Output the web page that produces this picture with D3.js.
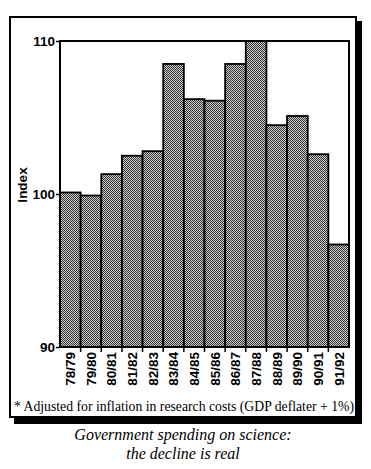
<!DOCTYPE html>
<html>
<head>
<meta charset="utf-8">
<script src="https://cdn.jsdelivr.net/npm/d3@7"></script>
<style>
  body { margin: 0; background: #fff; }
</style>
</head>
<body>
<div id="chart"></div>
<script>
// chart data
const years = ["78/79", "79/80", "80/81", "81/82", "82/83", "83/84", "84/85",
               "85/86", "86/87", "87/88", "88/89", "89/90", "90/91", "91/92"];
const index = [100.1, 99.9, 101.3, 102.5, 102.8, 108.5, 106.2,
               106.1, 108.5, 110.0, 104.5, 105.1, 102.6, 96.7];
const yTicks = [90, 100, 110];

const W = 371, H = 469;
const plot = { left: 60, top: 41, right: 349, bottom: 347 };

const svg = d3.select('#chart')
    .append('svg')
    .attr('width', W)
    .attr('height', H);

// halftone fill
const pat = svg.append('defs')
    .append('pattern')
    .attr('id', 'dots')
    .attr('width', 2)
    .attr('height', 2)
    .attr('patternUnits', 'userSpaceOnUse');
pat.append('rect').attr('width', 2).attr('height', 2).attr('fill', '#cfcfcf');
pat.append('rect').attr('width', 1).attr('height', 1).attr('fill', '#333');
pat.append('rect').attr('x', 1).attr('y', 1).attr('width', 1).attr('height', 1).attr('fill', '#333');

// shadow + outer box
svg.append('rect')
    .attr('x', 14).attr('y', 21)
    .attr('width', 348).attr('height', 403)
    .attr('fill', '#000');
svg.append('rect')
    .attr('x', 10).attr('y', 17)
    .attr('width', 346).attr('height', 400)
    .attr('fill', '#fff')
    .attr('stroke', '#000')
    .attr('stroke-width', 2);

const x = d3.scaleBand()
    .domain(years)
    .range([plot.left, plot.right])
    .padding(0);
const y = d3.scaleLinear()
    .domain([90, 110])
    .range([plot.bottom, plot.top]);

// bars
svg.append('g')
    .selectAll('rect')
    .data(years)
    .join('rect')
    .attr('x', d => x(d))
    .attr('y', (d, i) => y(index[i]))
    .attr('width', x.bandwidth())
    .attr('height', (d, i) => y(90) - y(index[i]))
    .attr('fill', 'url(#dots)')
    .attr('stroke', '#000')
    .attr('stroke-width', 1.8);

// plot frame
svg.append('rect')
    .attr('x', plot.left).attr('y', plot.top)
    .attr('width', plot.right - plot.left)
    .attr('height', plot.bottom - plot.top)
    .attr('fill', 'none')
    .attr('stroke', '#000')
    .attr('stroke-width', 2);

// y axis
const yAxis = svg.append('g')
    .attr('transform', `translate(${plot.left},0)`)
    .call(d3.axisLeft(y).tickValues(yTicks).tickSize(4).tickPadding(1));
yAxis.select('.domain').remove();
yAxis.selectAll('line').attr('stroke', '#000').attr('stroke-width', 1.5);
yAxis.selectAll('text')
    .attr('fill', '#000')
    .style('font-family', 'Liberation Sans, Arial, sans-serif')
    .style('font-weight', 'bold')
    .style('font-size', '13.5px');

svg.append('text')
    .attr('transform', 'translate(27,185) rotate(-90)')
    .attr('text-anchor', 'middle')
    .style('font-family', 'Liberation Sans, Arial, sans-serif')
    .style('font-weight', 'bold')
    .style('font-size', '13.5px')
    .text('Index');

// x axis: ticks on bar boundaries
const xAxis = svg.append('g')
    .attr('transform', `translate(0,${plot.bottom})`)
    .call(d3.axisBottom(x).tickSize(0).tickPadding(0));
xAxis.select('.domain').remove();
xAxis.selectAll('text')
    .attr('transform', 'rotate(-90)')
    .attr('x', -5)
    .attr('y', 0)
    .attr('dy', '0.36em')
    .attr('text-anchor', 'end')
    .attr('fill', '#000')
    .style('font-family', 'Liberation Sans, Arial, sans-serif')
    .style('font-weight', 'bold')
    .style('font-size', '13.5px');
svg.append('g')
    .selectAll('line')
    .data(years.slice(1))
    .join('line')
    .attr('x1', d => x(d)).attr('x2', d => x(d))
    .attr('y1', plot.bottom).attr('y2', plot.bottom + 5)
    .attr('stroke', '#000')
    .attr('stroke-width', 1.5);

// footnote
svg.append('text')
    .attr('x', 184)
    .attr('y', 411)
    .attr('text-anchor', 'middle')
    .attr('textLength', 340)
    .attr('lengthAdjust', 'spacingAndGlyphs')
    .style('font-family', 'Liberation Serif, Times New Roman, serif')
    .style('font-size', '14px')
    .text('* Adjusted for inflation in research costs (GDP deflater + 1%)');

// caption
const cap = svg.append('text')
    .attr('text-anchor', 'middle')
    .style('font-family', 'Liberation Serif, Times New Roman, serif')
    .style('font-style', 'italic')
    .style('font-size', '16px');
cap.append('tspan').attr('x', 183).attr('y', 440).text('Government spending on science:');
cap.append('tspan').attr('x', 183).attr('y', 459).text('the decline is real');
</script>
</body>
</html>
